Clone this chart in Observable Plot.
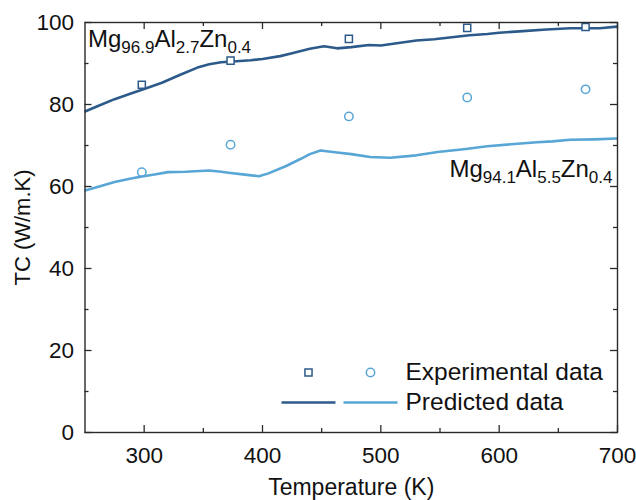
<!DOCTYPE html>
<html>
<head>
<meta charset="utf-8">
<script src="https://cdn.jsdelivr.net/npm/d3@7"></script>
<script src="https://cdn.jsdelivr.net/npm/@observablehq/plot@0.6"></script>
<style>
  html, body { margin: 0; padding: 0; background: #fff; }
  #chart { width: 636px; height: 500px; }
</style>
</head>
<body>
<div id="chart"></div>
<script>
// Predicted curve, Mg96.9Al2.7Zn0.4
const tempA = [250,260,275,290,300,315,330,345,355,365,375,390,400,415,425,440,452,463,475,490,500,515,530,545,560,575,590,600,620,640,660,673,685,700];
const tcA   = [78.3,79.5,81.3,82.8,83.8,85.3,87.2,89.0,89.8,90.3,90.5,90.8,91.1,91.8,92.5,93.6,94.2,93.7,94.0,94.5,94.4,95.0,95.6,95.9,96.4,96.9,97.2,97.5,97.9,98.3,98.6,98.6,98.6,99.0];
// Predicted curve, Mg94.1Al5.5Zn0.4
const tempB = [250,262,275,290,297,310,320,335,355,365,373,385,397,405,420,432,440,449,463,475,491,508,530,548,570,590,610,632,645,660,680,700];
const tcB   = [59.0,60.0,61.1,62.0,62.4,63.0,63.5,63.6,63.9,63.6,63.3,62.9,62.5,63.2,65.0,66.7,67.9,68.8,68.3,67.9,67.2,67.0,67.6,68.4,69.1,69.8,70.3,70.8,71.0,71.4,71.5,71.7];
// Experimental data
const expT = [298, 373, 473, 573, 673];
const expA = [84.8, 90.7, 96.0, 98.7, 98.9];
const expB = [63.5, 70.2, 77.1, 81.7, 83.7];
// Ticks
const xMajor = [300, 400, 500, 600, 700];
const xMinor = [350, 450, 550, 650];
const yMajor = [0, 20, 40, 60, 80, 100];
const yMinor = [10, 30, 50, 70, 90];
const labelA = "Mg_96.9_Al_2.7_Zn_0.4";
const labelB = "Mg_94.1_Al_5.5_Zn_0.4";
const legendTexts = ["Experimental data", "Predicted data"];

const dark = "#2c5a8a";
const light = "#58a6d6";
const axisColor = "#2a2a2a";

const W = 636, H = 500, mL = 84.5, mR = 19, mT = 22, mB = 68;
const innerW = W - mL - mR, innerH = H - mT - mB;

const lineA = tempA.map((t, i) => ({t, v: tcA[i]}));
const lineB = tempB.map((t, i) => ({t, v: tcB[i]}));
const ptsA = expT.map((t, i) => ({t, v: expA[i]}));
const ptsB = expT.map((t, i) => ({t, v: expB[i]}));

const legendLine = {draw(ctx) { ctx.moveTo(-27, 0); ctx.lineTo(27, 0); }};
const tickStyle = {stroke: axisColor, strokeWidth: 1.3};

const chart = Plot.plot({
  width: W,
  height: H,
  marginLeft: mL,
  marginRight: mR,
  marginTop: mT,
  marginBottom: mB,
  x: {domain: [250, 700], label: null},
  y: {domain: [0, 100], label: null},
  style: {fontFamily: "'Liberation Sans', Arial, sans-serif", fontSize: "22px", color: "#111", background: "#fff"},
  marks: [
    // inward ticks (bottom, top, left, right)
    Plot.tickX(xMajor, {x: d => d, insetTop: innerH - 7, ...tickStyle}),
    Plot.tickX(xMinor, {x: d => d, insetTop: innerH - 4, ...tickStyle}),
    Plot.tickX(xMajor, {x: d => d, insetBottom: innerH - 7, ...tickStyle}),
    Plot.tickX(xMinor, {x: d => d, insetBottom: innerH - 4, ...tickStyle}),
    Plot.tickY(yMajor, {y: d => d, insetRight: innerW - 7, ...tickStyle}),
    Plot.tickY(yMinor, {y: d => d, insetRight: innerW - 4, ...tickStyle}),
    Plot.tickY(yMajor, {y: d => d, insetLeft: innerW - 7, ...tickStyle}),
    Plot.tickY(yMinor, {y: d => d, insetLeft: innerW - 4, ...tickStyle}),
    // tick labels
    Plot.axisX(xMajor, {anchor: "bottom", tickSize: 0, tickPadding: 15, fontSize: 22.5}),
    Plot.axisY(yMajor, {anchor: "left", tickSize: 0, tickPadding: 11, fontSize: 22.5}),
    // axis titles
    Plot.text(["Temperature (K)"], {frameAnchor: "bottom", lineAnchor: "bottom", dy: 62, fontSize: 23}),
    Plot.text(["TC (W/m.K)"], {frameAnchor: "left", rotate: -90, textAnchor: "middle", lineAnchor: "middle", dx: -62.5, fontSize: 22}),
    // data
    Plot.line(lineA, {x: "t", y: "v", stroke: dark, strokeWidth: 2.6, clip: true}),
    Plot.line(lineB, {x: "t", y: "v", stroke: light, strokeWidth: 2.6, clip: true}),
    Plot.dot(ptsA, {x: "t", y: "v", symbol: "square", r: 4, stroke: dark, fill: "white", strokeWidth: 1.5}),
    Plot.dot(ptsB, {x: "t", y: "v", symbol: "circle", r: 4.2, stroke: light, fill: "none", strokeWidth: 1.5}),
    // alloy labels
    Plot.text([labelA], {frameAnchor: "top-left", textAnchor: "start", lineAnchor: "bottom", dx: 3, dy: 24, fontSize: 24, className: "alloy-label"}),
    Plot.text([labelB], {frameAnchor: "top-right", textAnchor: "end", lineAnchor: "bottom", dx: -5, dy: 154.7, fontSize: 24, className: "alloy-label"}),
    // legend
    Plot.dot([legendTexts[0]], {frameAnchor: "bottom-left", dx: 223.5, dy: -60, symbol: "square", r: 4, stroke: dark, fill: "none", strokeWidth: 1.5}),
    Plot.dot([legendTexts[0]], {frameAnchor: "bottom-left", dx: 285.5, dy: -60, symbol: "circle", r: 4.2, stroke: light, fill: "none", strokeWidth: 1.5}),
    Plot.dot([legendTexts[1]], {frameAnchor: "bottom-left", dx: 223.5, dy: -30, symbol: legendLine, stroke: dark, fill: "none", strokeWidth: 2.6}),
    Plot.dot([legendTexts[1]], {frameAnchor: "bottom-left", dx: 285.5, dy: -30, symbol: legendLine, stroke: light, fill: "none", strokeWidth: 2.6}),
    Plot.text([legendTexts[0]], {frameAnchor: "bottom-left", textAnchor: "start", lineAnchor: "middle", dx: 320.5, dy: -60, fontSize: 24.5}),
    Plot.text([legendTexts[1]], {frameAnchor: "bottom-left", textAnchor: "start", lineAnchor: "middle", dx: 320.5, dy: -30, fontSize: 24.5}),
    Plot.frame({stroke: axisColor, strokeWidth: 1.4})
  ]
});

document.getElementById("chart").appendChild(chart);

// Build subscripts in alloy labels
d3.select(chart).selectAll("g.alloy-label text").each(function () {
  const el = d3.select(this);
  const parts = el.text().split("_");
  el.text(null);
  parts.forEach((p, i) => {
    const ts = el.append("tspan").text(p);
    if (i % 2 === 1) {
      ts.attr("font-size", 17).attr("dy", 6);
    } else if (i > 0) {
      ts.attr("font-size", 24).attr("dy", -6);
    }
  });
});
</script>
</body>
</html>
